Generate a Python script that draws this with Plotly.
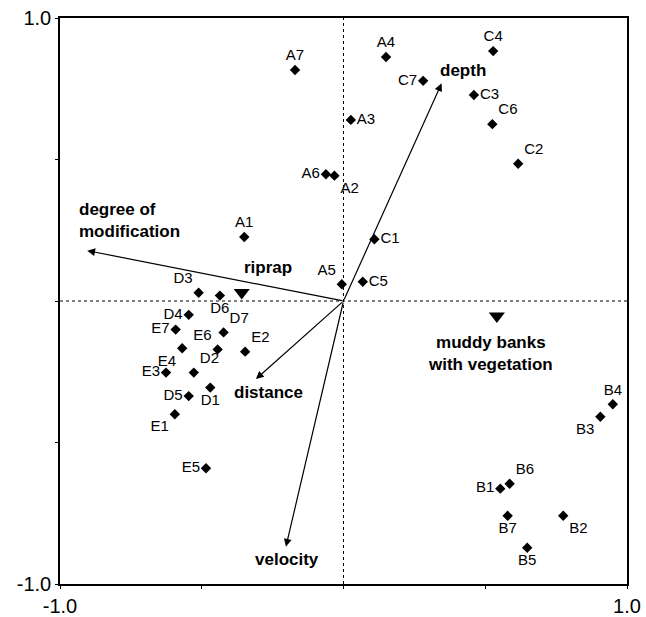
import plotly.graph_objects as go

# Site scores on the first two ordination axes
sites = ["A1", "A2", "A3", "A4", "A5", "A6", "A7",
         "B1", "B2", "B3", "B4", "B5", "B6", "B7",
         "C1", "C2", "C3", "C4", "C5", "C6", "C7",
         "D1", "D2", "D3", "D4", "D5", "D6", "D7",
         "E1", "E2", "E3", "E4", "E5", "E6", "E7"]
site_x = [-0.350, -0.032, 0.026, 0.150, -0.006, -0.062, -0.171,
          0.553, 0.775, 0.906, 0.950, 0.648, 0.586, 0.579,
          0.109, 0.616, 0.460, 0.528, 0.068, 0.525, 0.281,
          -0.470, -0.528, -0.511, -0.546, -0.546, -0.436, -0.423,
          -0.595, -0.347, -0.626, -0.569, -0.485, -0.444, -0.592]
site_y = [0.226, 0.443, 0.640, 0.862, 0.059, 0.448, 0.816,
          -0.663, -0.759, -0.409, -0.365, -0.872, -0.646, -0.759,
          0.218, 0.485, 0.728, 0.883, 0.068, 0.625, 0.778,
          -0.306, -0.253, 0.029, -0.049, -0.336, 0.019, -0.111,
          -0.400, -0.179, -0.253, -0.167, -0.591, -0.171, -0.101]
site_label_pos = ["top center", "bottom right", "middle right", "top center", "top left", "middle left", "top center",
                  "middle left", "bottom right", "bottom left", "top center", "bottom center", "top right", "bottom center",
                  "middle right", "top right", "middle right", "top center", "middle right", "top right", "middle left",
                  "bottom center", "top right", "top left", "middle left", "middle left", "bottom center", "top right",
                  "bottom left", "top right", "middle left", "bottom left", "middle left", "top left", "middle left"]

# Environmental variable vectors (arrow tips)
env_names = ["depth", "degree of<br>modification", "distance", "velocity"]
env_x = [0.346, -0.904, -0.309, -0.203]
env_y = [0.769, 0.178, -0.276, -0.868]
env_label_x = [0.421, -0.94, -0.266, -0.199]
env_label_y = [0.816, 0.286, -0.325, -0.915]
env_label_anchor = ["center", "left", "center", "center"]

# Nominal variable centroids
factor_names = ["riprap", "muddy banks<br>with vegetation"]
factor_x = [-0.359, 0.541]
factor_y = [0.030, -0.053]
factor_label_x = [-0.266, 0.52]
factor_label_y = [0.117, -0.187]

# Axis ticks
tick_vals = [-1.0, -0.5, 0.0, 0.5, 1.0]
tick_text = ["-1.0", "", "", "", "1.0"]

FONT = "Liberation Sans, Arial, sans-serif"

fig = go.Figure()

# Dotted reference lines through the origin
fig.add_trace(go.Scatter(x=[-1, 1], y=[0, 0], mode="lines",
                         line=dict(color="black", width=1, dash="dot"),
                         hoverinfo="skip", showlegend=False))
fig.add_trace(go.Scatter(x=[0, 0], y=[-1, 1], mode="lines",
                         line=dict(color="black", width=1, dash="dot"),
                         hoverinfo="skip", showlegend=False))

fig.add_trace(go.Scatter(
    x=site_x, y=site_y, mode="markers+text", text=sites,
    textposition=site_label_pos,
    textfont=dict(family=FONT, size=15, color="black"),
    marker=dict(symbol="diamond", size=8, color="black"),
    showlegend=False))

fig.add_trace(go.Scatter(
    x=factor_x, y=factor_y, mode="markers",
    marker=dict(symbol="triangle-down", size=14, color="black"),
    showlegend=False))

annotations = []
for name, tx, ty, lx, ly, anc in zip(env_names, env_x, env_y,
                                      env_label_x, env_label_y, env_label_anchor):
    annotations.append(dict(
        x=tx, y=ty, ax=0, ay=0, xref="x", yref="y", axref="x", ayref="y",
        showarrow=True, arrowhead=2, arrowsize=1.3, arrowwidth=1.2,
        arrowcolor="black", text=""))
    annotations.append(dict(
        x=lx, y=ly, xref="x", yref="y", text=name, showarrow=False,
        xanchor=anc, align="left",
        font=dict(family=FONT, size=17, color="black", weight="bold")))

for name, lx, ly in zip(factor_names, factor_label_x, factor_label_y):
    annotations.append(dict(
        x=lx, y=ly, xref="x", yref="y", text=name, showarrow=False,
        xanchor="center", align="center",
        font=dict(family=FONT, size=17, color="black", weight="bold")))

axis_common = dict(
    range=[-1, 1], tickvals=tick_vals, ticktext=tick_text,
    showgrid=False, zeroline=False, showline=True, mirror=True,
    linecolor="black", linewidth=1.5, ticks="outside", ticklen=3,
    tickcolor="black", automargin=False,
    tickfont=dict(family=FONT, size=20, color="black"))

fig.update_layout(
    width=646, height=617,
    margin=dict(l=60, r=19, t=18, b=33),
    plot_bgcolor="white", paper_bgcolor="white",
    xaxis=dict(**axis_common),
    yaxis=dict(**axis_common),
    annotations=annotations,
)

fig.write_html("out.html")
